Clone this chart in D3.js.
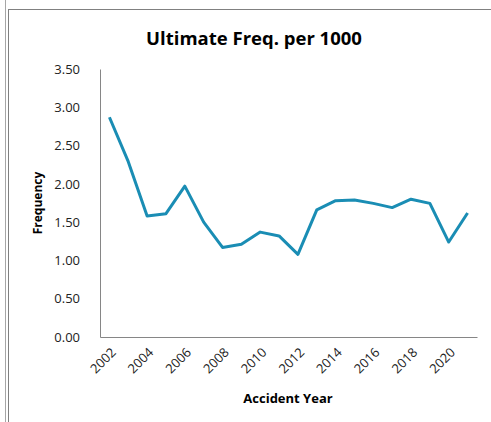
<!DOCTYPE html>
<html>
<head>
<meta charset="utf-8">
<script src="https://cdn.jsdelivr.net/npm/d3@7"></script>
<style>
  body { margin: 0; background: #fff; }
  text { font-family: "Open Sans", "Liberation Sans", sans-serif; fill: #000; }
</style>
</head>
<body>
<svg width="491" height="422"></svg>
<script>
var years = [2002, 2003, 2004, 2005, 2006, 2007, 2008, 2009, 2010, 2011,
             2012, 2013, 2014, 2015, 2016, 2017, 2018, 2019, 2020, 2021];
var freq = [2.87, 2.29, 1.58, 1.61, 1.97, 1.50, 1.17, 1.21, 1.37, 1.32,
            1.08, 1.66, 1.78, 1.79, 1.745, 1.69, 1.80, 1.745, 1.24, 1.62];
var yTicks = [0, 0.5, 1, 1.5, 2, 2.5, 3, 3.5];
var xLabels = [2002, 2004, 2006, 2008, 2010, 2012, 2014, 2016, 2018, 2020];

var svg = d3.select("svg");
var plotLeft = 100, plotRight = 477, plotTop = 69, plotBottom = 337;

// frame lines of the sheet
svg.append("line").attr("x1", 5.5).attr("x2", 5.5).attr("y1", 0).attr("y2", 422)
    .attr("stroke", "#a6a6a6").attr("stroke-width", 1);
svg.append("line").attr("x1", 8.5).attr("x2", 8.5).attr("y1", 9).attr("y2", 422)
    .attr("stroke", "#808080").attr("stroke-width", 1);
svg.append("line").attr("x1", 8).attr("x2", 491).attr("y1", 9.5).attr("y2", 9.5)
    .attr("stroke", "#808080").attr("stroke-width", 1);

var x = d3.scaleBand().domain(years).range([plotLeft, plotRight]);
var y = d3.scaleLinear().domain([0, 3.5]).range([plotBottom, plotTop]);

// axes
var yAxis = svg.append("g").attr("transform", "translate(" + plotLeft + ",0)")
    .call(d3.axisLeft(y).tickValues(yTicks).tickSize(0).tickPadding(20)
        .tickFormat(d3.format(".2f")));
yAxis.select(".domain").attr("stroke", "#868686");
yAxis.selectAll("text").style("font-size", "13px").style("fill", "#222");

var xAxis = svg.append("g").attr("transform", "translate(0," + plotBottom + ")")
    .call(d3.axisBottom(x).tickValues(xLabels).tickSize(0).tickSizeOuter(0));
xAxis.select(".domain").attr("stroke", "#868686");
xAxis.selectAll("text")
    .style("font-size", "13px").style("fill", "#222")
    .attr("text-anchor", "end")
    .attr("x", 0).attr("y", 0).attr("dy", "0.35em")
    .attr("transform", "translate(4,13) rotate(-45)");

// line
var line = d3.line()
    .x(function(d, i) { return x(years[i]) + x.bandwidth() / 2; })
    .y(function(d) { return y(d); });
svg.append("path")
    .datum(freq)
    .attr("d", line)
    .attr("fill", "none")
    .attr("stroke", "#1a8db4")
    .attr("stroke-width", 3)
    .attr("stroke-linejoin", "round");

// titles
svg.append("text").attr("x", 254).attr("y", 45).attr("text-anchor", "middle")
    .style("font-size", "18.5px").style("font-weight", "bold")
    .text("Ultimate Freq. per 1000");
svg.append("text").attr("transform", "translate(42,203) rotate(-90)")
    .attr("text-anchor", "middle")
    .style("font-size", "12px").style("font-weight", "bold")
    .text("Frequency");
svg.append("text").attr("x", 288).attr("y", 403).attr("text-anchor", "middle")
    .style("font-size", "13px").style("font-weight", "bold")
    .text("Accident Year");
</script>
</body>
</html>
